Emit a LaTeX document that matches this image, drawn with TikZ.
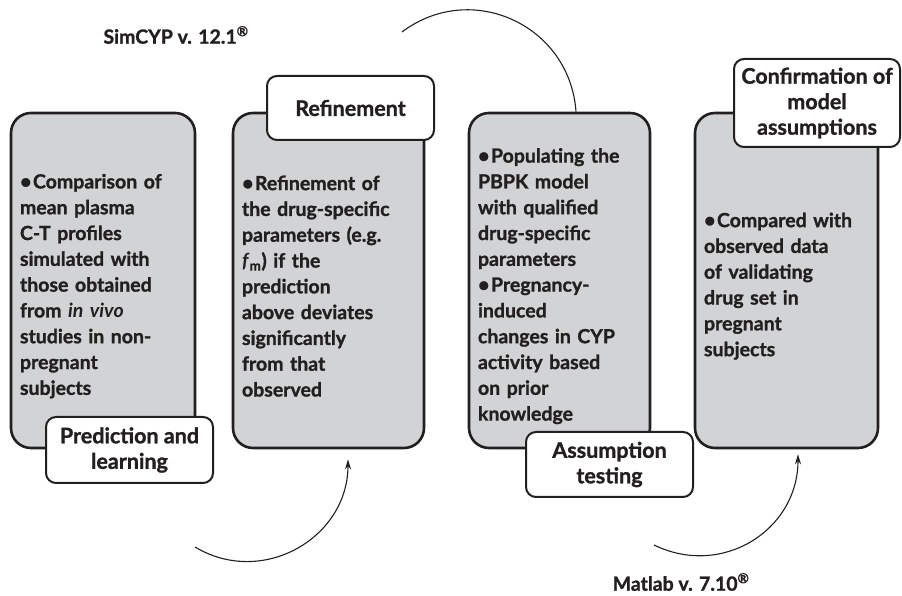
\documentclass[tikz,border=0pt]{standalone}
\usepackage{fontspec}
\setmainfont{Lato}[BoldFeatures={FakeBold=1.2}]
\usetikzlibrary{arrows.meta}
\definecolor{boxgray}{RGB}{209,211,212}
\definecolor{inkdark}{RGB}{35,31,32}
% bullet line with hanging indent
\newcommand{\bul}{\par\noindent\hangindent=13pt\hangafter=1\rightskip=-9pt plus 1fil%
  \makebox[13pt][l]{\fontsize{20}{0}\selectfont\textbullet}}

\begin{document}
\begin{tikzpicture}[x=1pt,y=1pt,
  stage/.style={draw=inkdark,line width=2.6pt,fill=boxgray,rounded corners=20pt,
    minimum height=335pt,inner xsep=9pt,inner ysep=0pt,align=left,text=inkdark,
    font=\bfseries\fontsize{19.5}{25.8}\selectfont},
  tag/.style={draw=inkdark,line width=2pt,fill=white,rounded corners=10pt,
    minimum width=167pt,inner sep=2pt,align=center,text=inkdark,
    font=\bfseries\fontsize{21.5}{25.5}\selectfont},
  loop/.style={draw=inkdark,line width=1.1pt,looseness=1.14},
  tool/.style={text=inkdark,font=\bfseries\fontsize{19.5}{24}\selectfont}]
  \useasboundingbox (0,0) rectangle (902,596);

  % the four stages
  \node[stage,text width=166pt] (b1) at (103,315.5)
    {\bul Comparison of\\ mean plasma\\ C-T profiles\\ simulated with\\ those obtained\\
     from \textit{in vivo}\\ studies in non-\\ pregnant\\ subjects};
  \node[stage,text width=173pt] (b2) at (328.5,315.5)
    {\bul Refinement of\\ the drug-specific\\ parameters (e.g.\\
     \textit{f}\textsubscript{m}) if the\\ prediction\\ above deviates\\ significantly\\
     from that\\ observed};
  \node[stage,text width=163pt] (b3) at (559.5,315.5)
    {\bul Populating the\\ PBPK model\\ with qualified\\ drug-specific\\ parameters
     \bul Pregnancy-\\ induced\\ changes in CYP\\ activity based\\ on prior\\ knowledge};
  \node[stage,text width=165pt] (b4) at (786.5,315.5)
    {\bul Compared with\\ observed data\\ of validating\\ drug set in\\ pregnant\\ subjects};

  % stage labels
  \node[tag,minimum height=64pt] (refine) at (350.5,488) {Refinement};
  \node[tag,minimum height=88pt,minimum width=166pt] (confirm) at (817,493)
    {Confirmation of\\ model\\ assumptions};
  \node[tag,minimum height=66pt] (predict) at (129.5,146) {Prediction and\\ learning};
  \node[tag,minimum height=65pt] (assume) at (609.5,131.5) {Assumption\\ testing};

  % software
  \node[tool] (simcyp) at (176,561) {SimCYP v. 12.1\textsuperscript{\textregistered}};
  \node[tool] (matlab) at (681,14) {Matlab v. 7.10\textsuperscript{\textregistered}};

  \coordinate (topfrom) at (402,564);
  \coordinate (leftfrom) at (195,49);
  \coordinate (rightfrom) at (654,51);
  \draw[loop,looseness=1.16] (topfrom) to[out=37,in=94] ([xshift=16.5pt]b3.north);
  \draw[loop,-{Stealth[length=10pt,width=6pt]}] (leftfrom) to[out=-31,in=-90]
    ([xshift=19.5pt,yshift=-10pt]b2.south);
  \draw[loop,-{Stealth[length=10pt,width=6pt]}] (rightfrom) to[out=-26,in=-90]
    ([xshift=11.5pt,yshift=-5pt]b4.south);
\end{tikzpicture}
\end{document}
